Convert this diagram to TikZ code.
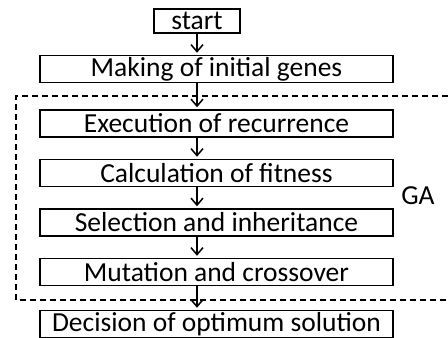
\documentclass[tikz,border=0pt]{standalone}
\usepackage{fontspec}
\setmainfont{Carlito}
\usetikzlibrary{arrows.meta,positioning}

\begin{document}
\begin{tikzpicture}[
  x=1pt,y=1pt,
  node distance=21pt,
  stepbox/.style={draw,line width=1.5pt,minimum width=353pt,minimum height=27pt,inner sep=0pt,fill=white,font=\fontsize{27.5}{29}\selectfont},
  arr/.style={-{Straight Barb[length=7pt,width=12pt]},line width=1.5pt,shorten >=2pt},
  frame/.style={dashed,dash pattern=on 6pt off 4pt,line width=1.3pt}
]
\useasboundingbox (0,0) rectangle (448,-338);
\node[stepbox,minimum width=86pt,minimum height=24pt] (start) at (197,-21) {start};
\node[stepbox] (mk) at (216.5,-69) {Making of initial genes};
\node[stepbox,below=26pt of mk] (ex) {Execution of recurrence};
\node[stepbox,below=of ex] (ca) {Calculation of fitness};
\node[stepbox,below=of ca] (se) {Selection and inheritance};
\node[stepbox,below=of se] (mu) {Mutation and crossover};
\node[stepbox,below=23.5pt of mu] (de) {Decision of optimum solution};
% GA group, open at the right edge
\draw[frame] (448,-96) -- (16,-96) -- (16,-300) -- (448,-300);
\node[font=\fontsize{27.5}{29}\selectfont] (ga) at (418,-196) {GA};
\draw[arr] (start.south) -- (start.south |- mk.north);
\foreach \a/\b in {mk/ex,ex/ca,ca/se,se/mu,mu/de}
  \draw[arr] (\a.south -| start) -- (\b.north -| start);
\end{tikzpicture}
\end{document}
